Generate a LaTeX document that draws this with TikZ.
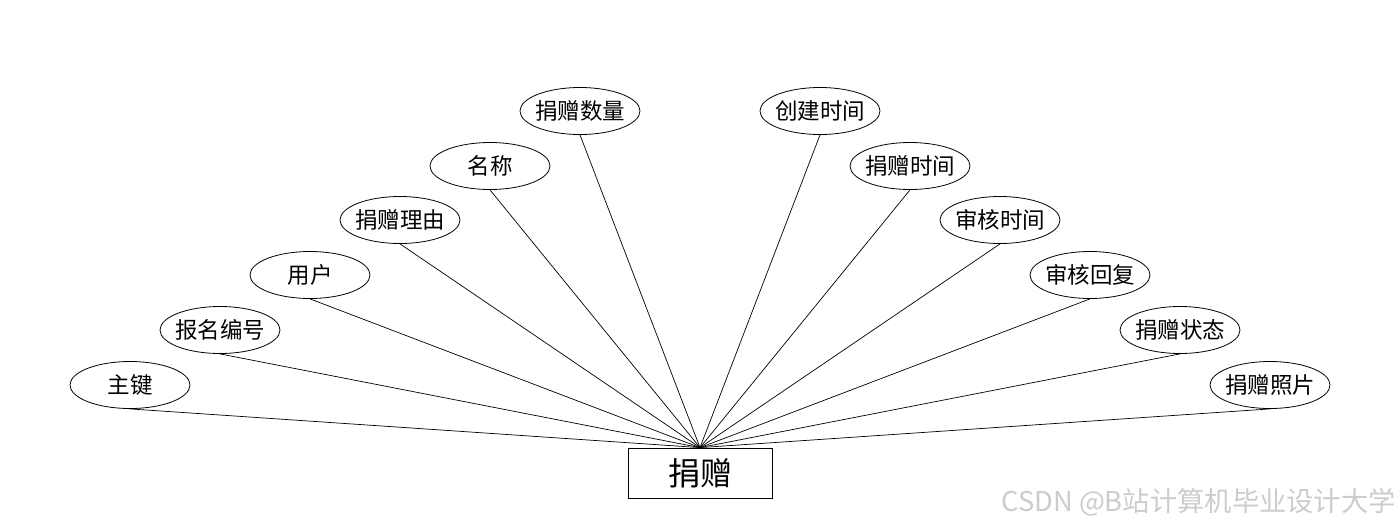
\documentclass[tikz,border=0pt]{standalone}
\usepackage{fontspec}
\setmainfont{Noto Sans CJK SC}
\newfontfamily\wmfont{Noto Sans CJK SC}
\usetikzlibrary{shapes.geometric}
\newcommand{\attrtext}[1]{\makebox[0pt]{#1}}
\tikzset{
  attr/.style={draw, ellipse, line width=0.8pt, minimum width=120pt, minimum height=47pt, inner sep=0pt, font=\fontsize{22.5pt}{24pt}\selectfont},
  ent/.style={draw, rectangle, line width=0.8pt, minimum width=144pt, minimum height=50pt, inner sep=0pt, font=\fontsize{32pt}{34pt}\selectfont},
  link/.style={line width=0.7pt}
}
\begin{document}
\begin{tikzpicture}[x=1pt,y=-1pt]
\useasboundingbox (0,0) rectangle (1400,528);
\node[ent] (e) at (700,473) {捐赠};
\node[attr] (a1) at (130,385) {\attrtext{主键}};
\node[attr] (a2) at (220,330) {\attrtext{报名编号}};
\node[attr] (a3) at (310,275) {\attrtext{用户}};
\node[attr] (a4) at (400,220) {\attrtext{捐赠理由}};
\node[attr] (a5) at (490,166) {\attrtext{名称}};
\node[attr] (a6) at (580,111) {\attrtext{捐赠数量}};
\node[attr] (b1) at (820,111) {\attrtext{创建时间}};
\node[attr] (b2) at (910,166) {\attrtext{捐赠时间}};
\node[attr] (b3) at (1000,220) {\attrtext{审核时间}};
\node[attr] (b4) at (1090,275) {\attrtext{审核回复}};
\node[attr] (b5) at (1180,330) {\attrtext{捐赠状态}};
\node[attr] (b6) at (1270,385) {\attrtext{捐赠照片}};
\foreach \n in {a1,a2,a3,a4,a5,a6,b1,b2,b3,b4,b5,b6}
  \draw[link] (\n.south) -- (e.north);
\node[anchor=east, text=black!20, font=\wmfont\fontsize{27.3pt}{29pt}\selectfont, inner sep=0pt] (wm) at (1396,502) {CSDN @B站计算机毕业设计大学};
\end{tikzpicture}
\end{document}
